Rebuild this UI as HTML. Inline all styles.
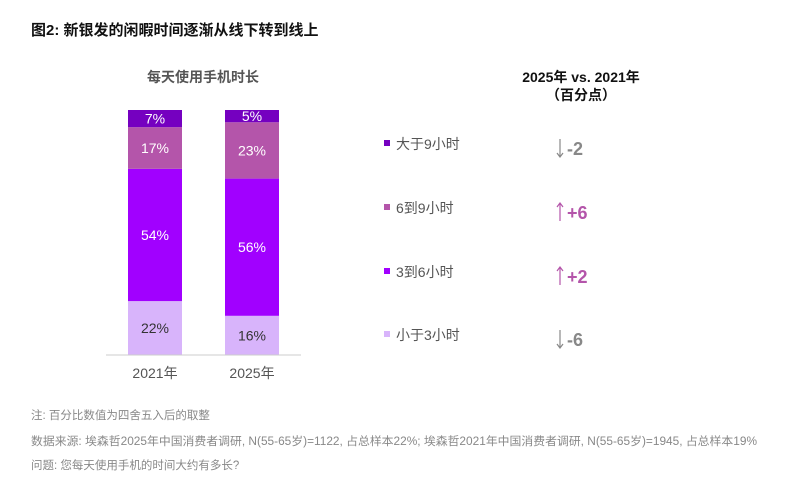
<!DOCTYPE html>
<html><head><meta charset="utf-8"><style>
body{margin:0;background:#fff;width:799px;height:483px;overflow:hidden;font-family:"Liberation Sans","Noto Sans CJK SC",sans-serif;}
</style></head><body>
<svg width="799" height="483" xmlns="http://www.w3.org/2000/svg" style="font-family:'Liberation Sans','Noto Sans CJK SC',sans-serif">
<text x="31" y="35" font-size="15" font-weight="bold" fill="#111">图2: 新银发的闲暇时间逐渐从线下转到线上</text>
<text x="203" y="82" font-size="14" font-weight="bold" fill="#555" text-anchor="middle">每天使用手机时长</text>
<text x="581" y="82" font-size="14" font-weight="bold" fill="#111" text-anchor="middle">2025年 vs. 2021年</text>
<text x="581" y="100" font-size="14" font-weight="bold" fill="#111" text-anchor="middle">（百分点）</text>
<g id="bars"></g>
<line x1="106" y1="355" x2="301" y2="355" stroke="#ccc" stroke-width="1"/>
<g id="legend"></g>
<text x="31" y="419" font-size="11.5" fill="#888">注: 百分比数值为四舍五入后的取整</text>
<text x="31" y="445" font-size="11.5" fill="#888" textLength="726" lengthAdjust="spacingAndGlyphs">数据来源: 埃森哲2025年中国消费者调研, N(55-65岁)=1122, 占总样本22%; 埃森哲2021年中国消费者调研, N(55-65岁)=1945, 占总样本19%</text>
<text x="31" y="469" font-size="11.5" fill="#888">问题: 您每天使用手机的时间大约有多长?</text>
</svg>
<script>
const years = ["2021年","2025年"];
const segments = ["小于3小时","3到6小时","6到9小时","大于9小时"];
const values2021 = [22,54,17,7];
const values2025 = [16,56,23,5];
const changes = [-6,2,6,-2];
const colors = ["#d8b4fb","#a100ff","#b455aa","#7500c0"];
const textColors = ["#333","#fff","#fff","#fff"];
const NS="http://www.w3.org/2000/svg";
const base=355, top0=110, H=base-top0;
const y = v => base - v/100*H;
const barX = [128,225], barW=54;
function mk(t,a,p){const e=document.createElementNS(NS,t);for(const k in a)e.setAttribute(k,a[k]);p.appendChild(e);return e;}
const g=document.getElementById('bars');
[values2021,values2025].forEach((vals,i)=>{
  let cum=0;
  vals.forEach((v,j)=>{
    const y1=y(cum+v), y0=y(cum);
    const r=mk('rect',{x:barX[i],y:y1,width:barW,height:y0-y1,fill:colors[j]},g);
    
    
    const t=mk('text',{x:barX[i]+barW/2,y:(y0+y1)/2+5,'font-size':14,fill:textColors[j],'text-anchor':'middle'},g);
    t.textContent=v+'%';
    
    
    cum+=v;
  });
  const l=mk('text',{x:barX[i]+barW/2,y:378,'font-size':14,fill:'#555','text-anchor':'middle'},g);
  l.textContent=years[i];
  
  
});
const lg=document.getElementById('legend');
const rowY=[340,277,213,149];
segments.forEach((s,j)=>{
  const yy=rowY[j];
  const sq=mk('rect',{x:384,y:yy-9,width:6,height:6,fill:colors[j]},lg);
  
  
  const t=mk('text',{x:396,y:yy,'font-size':14,fill:'#555'},lg);
  t.textContent=s;
  
  
  const c=changes[j], up=c>0, col=up?'#b455aa':'#888';
  const ay=yy;
  const ar=mk('path',{d:up?`M560 ${ay+8} L560 ${ay-10} M557 ${ay-6} L560 ${ay-10} L563 ${ay-6}`:`M560 ${ay-10} L560 ${ay+8} M557 ${ay+4} L560 ${ay+8} L563 ${ay+4}`,stroke:col,'stroke-width':1.2,fill:'none'},lg);
  
  
  const v=mk('text',{x:567,y:yy+6,'font-size':18,'font-weight':'bold',fill:col},lg);
  v.textContent=(up?'+':'-')+Math.abs(c);
  
  
});
</script>
</body></html>
